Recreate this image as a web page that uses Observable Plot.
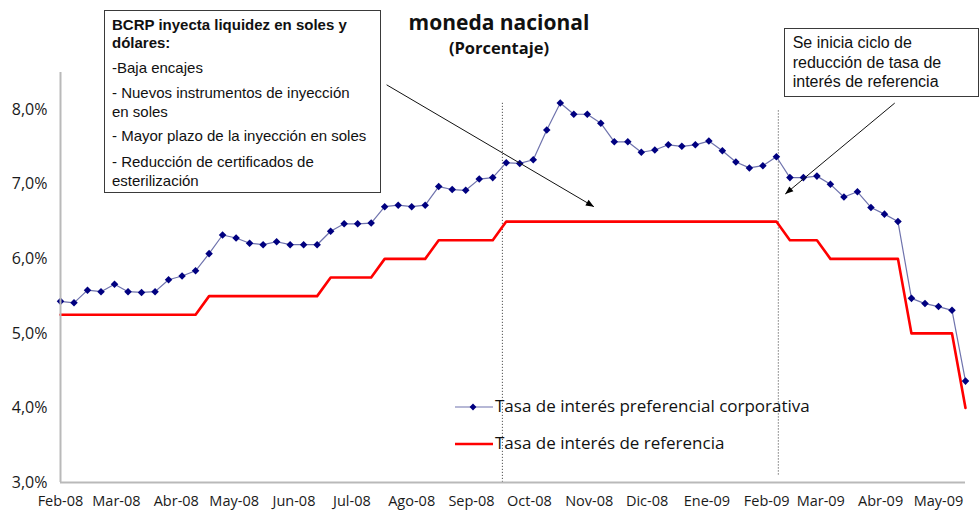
<!DOCTYPE html>
<html><head><meta charset="utf-8">
<script src="https://cdn.jsdelivr.net/npm/d3@7"></script>
<script src="https://cdn.jsdelivr.net/npm/@observablehq/plot@0.6"></script>
<style>
body{margin:0;background:#fff;}
#wrap{position:relative;width:979px;height:511px;overflow:hidden;font-family:"Open Sans",sans-serif;background:#fff;}
#wrap svg.plot{position:absolute;left:0;top:0;}
.ov{position:absolute;white-space:nowrap;color:#111;}
.title{font-weight:bold;text-align:center;}
.box{position:absolute;box-sizing:border-box;border:1px solid #3a3a3a;background:#fff;font-family:"Liberation Sans",Arial,sans-serif;color:#111;white-space:nowrap;}
.box p{margin:0;}
.leg{position:absolute;font-family:"Open Sans",sans-serif;font-size:17px;line-height:20px;color:#111;white-space:nowrap;}
</style></head><body>
<div id="wrap"></div>
<script>
// ---- data ----
const dates = [
 "2008-02-01","2008-02-08","2008-02-15","2008-02-22","2008-02-29",
 "2008-03-07","2008-03-14","2008-03-21","2008-03-28",
 "2008-04-04","2008-04-11","2008-04-18","2008-04-25",
 "2008-05-02","2008-05-09","2008-05-16","2008-05-23","2008-05-30",
 "2008-06-06","2008-06-13","2008-06-20","2008-06-27",
 "2008-07-04","2008-07-11","2008-07-18","2008-07-25",
 "2008-08-01","2008-08-08","2008-08-15","2008-08-22","2008-08-29",
 "2008-09-05","2008-09-12","2008-09-19","2008-09-26",
 "2008-10-03","2008-10-10","2008-10-17","2008-10-24","2008-10-31",
 "2008-11-07","2008-11-14","2008-11-21","2008-11-28",
 "2008-12-05","2008-12-12","2008-12-19","2008-12-26",
 "2009-01-02","2009-01-09","2009-01-16","2009-01-23","2009-01-30",
 "2009-02-06","2009-02-13","2009-02-20","2009-02-27",
 "2009-03-06","2009-03-13","2009-03-20","2009-03-27",
 "2009-04-03","2009-04-10","2009-04-17","2009-04-24",
 "2009-05-01","2009-05-08","2009-05-15"
];
const prefRate = [
 5.43,5.41,5.58,5.56,5.66,5.56,5.55,5.56,5.72,5.77,
 5.84,6.07,6.32,6.28,6.21,6.19,6.23,6.19,6.19,6.19,
 6.37,6.47,6.47,6.48,6.70,6.72,6.70,6.72,6.97,6.93,
 6.92,7.07,7.09,7.29,7.28,7.33,7.73,8.09,7.94,7.94,
 7.82,7.57,7.57,7.43,7.46,7.53,7.51,7.53,7.58,7.45,
 7.30,7.22,7.25,7.37,7.09,7.09,7.11,7.00,6.83,6.90,
 6.69,6.60,6.50,5.47,5.40,5.36,5.31,4.36
];
const refRate = [
 5.25,5.25,5.25,5.25,5.25,5.25,5.25,5.25,5.25,5.25,
 5.25,5.50,5.50,5.50,5.50,5.50,5.50,5.50,5.50,5.50,
 5.75,5.75,5.75,5.75,6.00,6.00,6.00,6.00,6.25,6.25,
 6.25,6.25,6.25,6.50,6.50,6.50,6.50,6.50,6.50,6.50,
 6.50,6.50,6.50,6.50,6.50,6.50,6.50,6.50,6.50,6.50,
 6.50,6.50,6.50,6.50,6.25,6.25,6.25,6.00,6.00,6.00,
 6.00,6.00,6.00,5.00,5.00,5.00,5.00,4.00
];
const seriesNames = ["Tasa de interés preferencial corporativa","Tasa de interés de referencia"];
const tickDates = ["2008-02-01","2008-03-01","2008-04-01","2008-05-01","2008-06-01","2008-07-01","2008-08-01","2008-09-01","2008-10-01","2008-11-01","2008-12-01","2009-01-01","2009-02-01","2009-03-01","2009-04-01","2009-05-01"];
const tickLabels = ["Feb-08","Mar-08","Abr-08","May-08","Jun-08","Jul-08","Ago-08","Sep-08","Oct-08","Nov-08","Dic-08","Ene-09","Feb-09","Mar-09","Abr-09","May-09"];
const yTicks = [3,4,5,6,7,8];
// event markers (dotted verticals) and annotation arrows, in data space
const eventDates = ["2008-09-17","2009-02-07"];
const eventTop = [8.10, 8.01];
const eventBottom = [3.0, 3.10];
const arrowFrom = [["2008-07-19T00:00", 8.335],["2009-04-08T08:00", 8.09]];
const arrowTo   = [["2008-11-03T10:00", 6.70],["2009-02-10T14:00", 6.87]];

// ---- build ----
const parse = d3.utcParse("%Y-%m-%d");
const parseT = d3.utcParse("%Y-%m-%dT%H:%M");
const rows = dates.map((d,i)=>({date: parse(d), pref: prefRate[i], ref: refRate[i]}));
const xDomain = [rows[0].date, rows[rows.length-1].date];
const labelMap = new Map(tickDates.map((d,i)=>[+parse(d), tickLabels[i]]));
const events = eventDates.map((d,i)=>({date: parse(d), top: eventTop[i], bottom: eventBottom[i]}));
const arrows = arrowFrom.map((f,i)=>({x1: parseT(f[0]), y1: f[1], x2: parseT(arrowTo[i][0]), y2: arrowTo[i][1]}));

const plot = Plot.plot({
  width: 979, height: 511,
  marginLeft: 60, marginRight: 14, marginTop: 72, marginBottom: 29,
  style: {fontFamily: "Open Sans", background: "transparent", overflow: "visible", color: "#1a1a1a"},
  x: {type: "utc", domain: xDomain},
  y: {domain: [3, 8.5]},
  marks: [
    Plot.ruleX(events, {x: "date", y1: "bottom", y2: "top", stroke: "#555", strokeWidth: 1, strokeDasharray: "1.2,1.8"}),
    Plot.line(rows, {x: "date", y: "ref", stroke: "#ff0000", strokeWidth: 2.6}),
    Plot.line(rows, {x: "date", y: "pref", stroke: "#6f73ad", strokeWidth: 1.2}),
    Plot.dot(rows, {x: "date", y: "pref", symbol: "diamond2", r: 3.4, fill: "#000080"}),
    Plot.ruleX([xDomain[0]], {stroke: "#b9b9b9", strokeWidth: 2}),
    Plot.ruleY([3], {stroke: "#b9b9b9", strokeWidth: 2}),
    Plot.axisY({ticks: yTicks, tickFormat: d => d.toFixed(1).replace(".", ",") + "%", tickSize: 0, tickPadding: 13, fontSize: 16, label: null}),
    Plot.axisX({ticks: tickDates.map(parse), tickFormat: d => labelMap.get(+d), tickSize: 0, tickPadding: 13, fontSize: 14.5, label: null}),
    Plot.link(arrows, {x1: "x1", y1: "y1", x2: "x2", y2: "y2", stroke: "#111", strokeWidth: 1, markerEnd: "arrow"})
  ]
});
plot.classList.add("plot");
d3.select(plot).selectAll("marker").each(function(){
  const m = d3.select(this);
  m.attr("viewBox","-9 -4 10 8").attr("markerWidth",10).attr("markerHeight",8)
   .attr("fill","#000").attr("stroke","none");
  m.selectAll("path").attr("d","M-8,-3.2L0,0L-8,3.2Z");
});
const wrap = document.getElementById("wrap");
wrap.appendChild(plot);

function add(html){ const t=document.createElement("template"); t.innerHTML=html.trim(); wrap.appendChild(t.content.firstChild); }
// titles
add('<div class="ov title" style="left:349px;width:300px;top:9.5px;font-size:21px;line-height:25px;">moneda nacional</div>');
add('<div class="ov title" style="left:349px;width:300px;top:37.5px;font-size:16.5px;line-height:19px;">(Porcentaje)</div>');
// annotation boxes
add('<div class="box" style="left:104px;top:10px;width:277px;height:183px;padding:4.75px 0 0 7px;font-size:15px;line-height:18.5px;">'
 + '<p style="font-weight:bold">BCRP inyecta liquidez en soles y<br>dólares:</p>'
 + '<p style="margin-top:6.5px">-Baja encajes</p>'
 + '<p style="margin-top:6.5px">- Nuevos instrumentos de inyección<br>en soles</p>'
 + '<p style="margin-top:6px">- Mayor plazo de la inyección en soles</p>'
 + '<p style="margin-top:7.5px">- Reducción de certificados de<br>esterilización</p></div>');
add('<div class="box" style="left:784px;top:28px;width:195px;height:69px;padding:4.25px 0 0 7.7px;font-size:16px;line-height:19.5px;">'
 + 'Se inicia ciclo de<br>reducción de tasa de<br>interés de referencia</div>');
// legend
add('<svg style="position:absolute;left:455px;top:397px" width="40" height="20"><line x1="0" x2="38" y1="10" y2="10" stroke="#6f73ad" stroke-width="1.2"/><path d="M18,6.6L21.4,10L18,13.4L14.6,10Z" fill="#000080"/></svg>');
add('<div class="leg" style="left:495px;top:396px">' + seriesNames[0] + '</div>');
add('<svg style="position:absolute;left:455px;top:434px" width="40" height="20"><line x1="0" x2="38" y1="10" y2="10" stroke="#ff0000" stroke-width="2.6"/></svg>');
add('<div class="leg" style="left:495px;top:433px">' + seriesNames[1] + '</div>');
</script>
</body></html>
